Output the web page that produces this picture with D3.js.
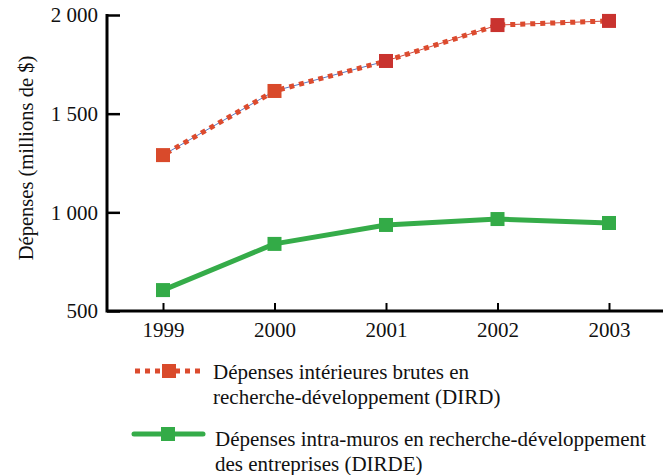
<!DOCTYPE html>
<html>
<head>
<meta charset="utf-8">
<script src="https://cdn.jsdelivr.net/npm/d3@7"></script>
<style>
  body { margin: 0; background: #fff; }
</style>
</head>
<body>
<div id="chart"></div>
<script>
// data
var years = ["1999", "2000", "2001", "2002", "2003"];
var dird = [1290, 1615, 1767, 1949, 1970];
var dirde = [606, 840, 936, 966, 946];
var yTicks = [500, 1000, 1500, 2000];
var legendLines = [
  ["Dépenses intérieures brutes en", "recherche-développement (DIRD)"],
  ["Dépenses intra-muros en recherche-développement", "des entreprises (DIRDE)"]
];

const width = 668, height = 475;
const plotLeft = 107, plotRight = 663, plotTop = 15, plotBottom = 311;
const font = "'Liberation Serif'";
const fs = 21;

var svg = d3.select("#chart").append("svg")
  .attr("width", width)
  .attr("height", height);

var x = d3.scalePoint().domain(years).range([163, 609]);
var y = d3.scaleLinear().domain([500, 2000]).range([plotBottom, plotTop]);

var fmt = function(d) { return d3.format(",")(d).replace(",", " "); };

// y axis, ticks point inward
var yAxis = d3.axisRight(y).tickValues(yTicks).tickSize(13).tickFormat("");
var gy = svg.append("g").attr("transform", "translate(" + plotLeft + ",0)").call(yAxis);
gy.select(".domain").remove();
gy.selectAll(".tick line").attr("stroke", "#000").attr("stroke-width", 2.5);
gy.selectAll(".tick").append("text")
  .attr("x", -9).attr("dy", "0.33em")
  .attr("text-anchor", "end")
  .attr("font-family", font).attr("font-size", fs).attr("fill", "#111")
  .text(d => fmt(d));

// x axis, ticks point up
var xAxis = d3.axisTop(x).tickSize(8).tickFormat("");
var gx = svg.append("g").attr("transform", "translate(0," + plotBottom + ")").call(xAxis);
gx.select(".domain").remove();
gx.selectAll(".tick line").attr("stroke", "#000").attr("stroke-width", 2);
gx.selectAll(".tick").append("text")
  .attr("y", 26)
  .attr("text-anchor", "middle")
  .attr("font-family", font).attr("font-size", fs).attr("fill", "#111")
  .text(d => d);

// axis lines
svg.append("path")
  .attr("d", "M" + plotLeft + "," + (plotTop - 1) + "V" + plotBottom + "H" + plotRight)
  .attr("fill", "none")
  .attr("stroke", "#000")
  .attr("stroke-width", 3);

// y label
svg.append("text")
  .attr("transform", "translate(33,158) rotate(-90)")
  .attr("text-anchor", "middle")
  .attr("font-family", font).attr("font-size", 20.5).attr("fill", "#111")
  .text("Dépenses (millions de $)");

var line = d3.line().x((d, i) => x(years[i])).y(d => y(d));

// DIRD: thin line underneath, then dotted squares
var thinCol = ["#5a79c4", "#5a79c4", "#d0453a", "#d0453a"];
for (var i = 0; i < dird.length - 1; i++) {
  svg.append("line")
    .attr("x1", x(years[i])).attr("y1", y(dird[i]))
    .attr("x2", x(years[i + 1])).attr("y2", y(dird[i + 1]))
    .attr("stroke", thinCol[i]).attr("stroke-width", 1);
}
svg.append("path")
  .datum(dird)
  .attr("d", line)
  .attr("fill", "none")
  .attr("stroke", "#dc4b2e")
  .attr("stroke-width", 5)
  .attr("stroke-dasharray", "5,5")
  .attr("stroke-dashoffset", -4);

var dirdCol = ["#d94a2b", "#d94a2b", "#c9332f", "#c9332f", "#c9332f"];
svg.selectAll(".m1").data(dird).enter().append("rect")
  .attr("class", "m1")
  .attr("x", (d, i) => x(years[i]) - 7)
  .attr("y", d => y(d) - 7)
  .attr("width", 14).attr("height", 14)
  .attr("fill", (d, i) => dirdCol[i]);

// DIRDE
svg.append("path")
  .datum(dirde)
  .attr("d", line)
  .attr("fill", "none")
  .attr("stroke", "#35ac49")
  .attr("stroke-width", 5)
  .attr("stroke-linejoin", "round");

svg.selectAll(".m2").data(dirde).enter().append("rect")
  .attr("class", "m2")
  .attr("x", (d, i) => x(years[i]) - 7)
  .attr("y", d => y(d) - 7)
  .attr("width", 14).attr("height", 14)
  .attr("fill", "#33ab47");

// legend
var lg = svg.append("g");
lg.append("line")
  .attr("x1", 135).attr("x2", 205).attr("y1", 371).attr("y2", 371)
  .attr("stroke", "#dc4b2e").attr("stroke-width", 5)
  .attr("stroke-dasharray", "5,5");
lg.append("rect").attr("x", 162).attr("y", 364).attr("width", 14).attr("height", 14).attr("fill", "#d94a2b");
lg.append("line")
  .attr("x1", 134).attr("x2", 203).attr("y1", 434).attr("y2", 434)
  .attr("stroke", "#35ac49").attr("stroke-width", 5)
  .attr("stroke-linecap", "round");
lg.append("rect").attr("x", 161).attr("y", 427).attr("width", 14).attr("height", 14).attr("fill", "#33ab47");

var lgPos = [[213, 379], [215, 446]];
legendLines.forEach(function(ls, k) {
  ls.forEach(function(t, j) {
    lg.append("text")
      .attr("x", lgPos[k][0])
      .attr("y", lgPos[k][1] + j * 25)
      .attr("font-family", font).attr("font-size", fs).attr("fill", "#111")
      .text(t);
  });
});
</script>
</body>
</html>
